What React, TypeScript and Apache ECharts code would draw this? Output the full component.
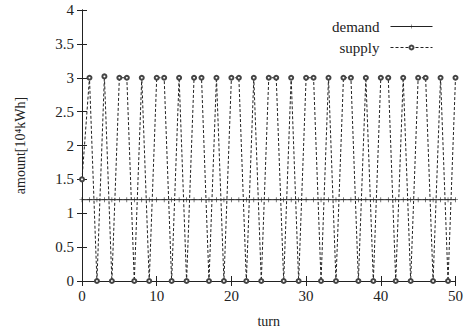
import React, { useEffect, useRef } from "react";
import * as echarts from "echarts";

const turns: number[] = Array.from({ length: 51 }, (_, i) => i);
const demand: number[] = [
  1.2, 1.2, 1.2, 1.2, 1.2, 1.2, 1.2, 1.2, 1.2, 1.2,
  1.2, 1.2, 1.2, 1.2, 1.2, 1.2, 1.2, 1.2, 1.2, 1.2,
  1.2, 1.2, 1.2, 1.2, 1.2, 1.2, 1.2, 1.2, 1.2, 1.2,
  1.2, 1.2, 1.2, 1.2, 1.2, 1.2, 1.2, 1.2, 1.2, 1.2,
  1.2, 1.2, 1.2, 1.2, 1.2, 1.2, 1.2, 1.2, 1.2, 1.2, 1.2,
];
const supply: number[] = [
  1.5, 3, 0, 3.02, 0, 3, 3, 0, 3, 0,
  3, 3, 0, 3, 0, 3, 3, 0, 3, 0,
  3, 3, 0, 3, 0, 3, 3, 0, 3, 0,
  3, 3, 0, 3, 0, 3, 3, 0, 3, 0,
  3, 3, 0, 3, 0, 3, 3, 0, 3, 0, 3,
];

const FONT = "Liberation Serif";
const INK = "#222";

export default function App() {
  const ref = useRef<HTMLDivElement>(null);
  useEffect(() => {
    if (!ref.current) return;
    const chart = echarts.init(ref.current, null, { renderer: "svg" });
    const axisCommon = {
      axisLine: { show: true, lineStyle: { color: INK, width: 1 } },
      axisTick: { show: true, inside: true, length: 5, lineStyle: { color: INK } },
      splitLine: { show: false },
    };
    chart.setOption({
      animation: false,
      backgroundColor: "#fff",
      textStyle: { fontFamily: FONT },
      grid: { left: 82, right: 9, top: 10, bottom: 53, containLabel: false },
      legend: {
        orient: "vertical",
        right: 28,
        top: 14,
        align: "right",
        itemWidth: 42,
        itemHeight: 5,
        itemGap: 6,
        lineStyle: { width: 1 },
        textStyle: { fontFamily: FONT, fontSize: 15, color: INK, padding: [0, 6, 0, 0] },
        data: ["demand", "supply"],
      },
      xAxis: [
        {
          type: "value",
          min: 0,
          max: 50,
          interval: 10,
          name: "turn",
          nameLocation: "middle",
          nameGap: 33,
          nameTextStyle: { fontFamily: FONT, fontSize: 14, color: INK },
          axisLabel: { fontFamily: FONT, fontSize: 15, color: INK, margin: 7 },
          ...axisCommon,
        },
        {
          type: "value",
          position: "top",
          min: 0,
          max: 50,
          interval: 10,
          axisLabel: { show: false },
          ...axisCommon,
        },
      ],
      yAxis: [
        {
          type: "value",
          min: 0,
          max: 4,
          interval: 0.5,
          name: "amount[10⁴kWh]",
          nameLocation: "middle",
          nameGap: 55,
          nameTextStyle: { fontFamily: FONT, fontSize: 14, color: INK },
          axisLabel: { fontFamily: FONT, fontSize: 15, color: INK, margin: 8 },
          ...axisCommon,
        },
        {
          type: "value",
          position: "right",
          min: 0,
          max: 4,
          interval: 0.5,
          axisLabel: { show: false },
          ...axisCommon,
        },
      ],
      series: [
        {
          name: "demand",
          type: "line",
          data: turns.map((t, i) => [t, demand[i]]),
          symbol: "path://M-0.12,-1 L0.12,-1 L0.12,1 L-0.12,1 Z M-1,-0.12 L1,-0.12 L1,0.12 L-1,0.12 Z",
          symbolSize: 5,
          showAllSymbol: true,
          itemStyle: { color: INK },
          lineStyle: { color: INK, width: 1 },
          z: 3,
        },
        {
          name: "supply",
          type: "line",
          data: turns.map((t, i) => [t, supply[i]]),
          symbol: "emptyCircle",
          symbolSize: 4,
          showAllSymbol: true,
          itemStyle: { color: "#444", borderWidth: 1 },
          lineStyle: { color: INK, width: 1, type: [3, 2] },
          z: 2,
        },
      ],
    });
    return () => chart.dispose();
  }, []);
  return <div ref={ref} style={{ width: 466, height: 334, position: "absolute", left: 0, top: 0 }} />;
}
